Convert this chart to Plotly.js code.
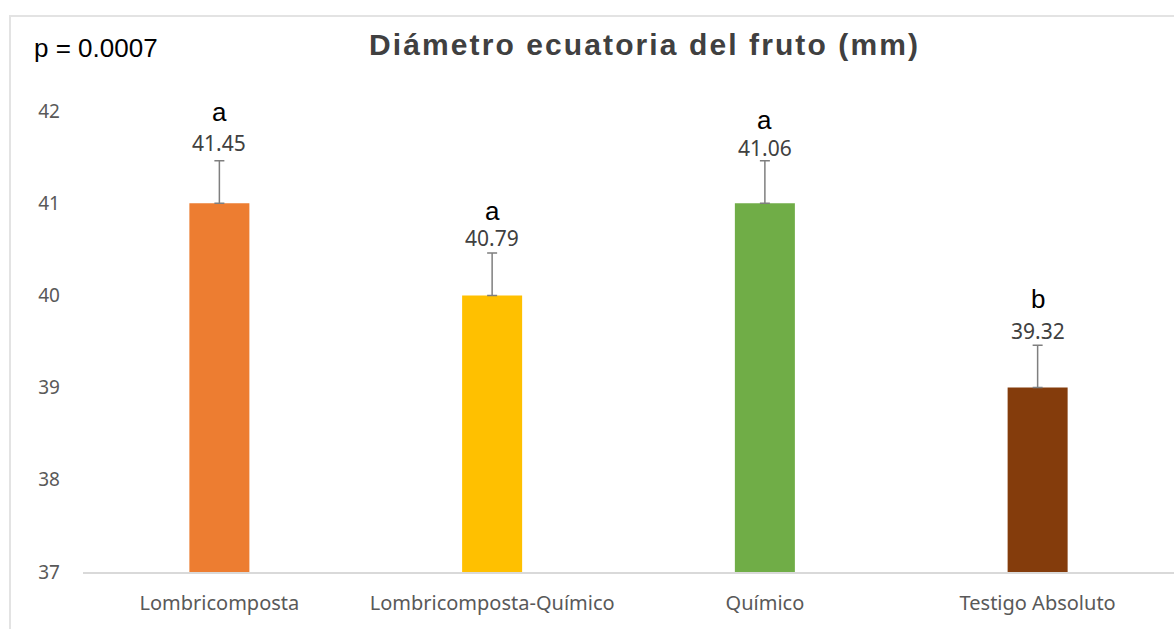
<!DOCTYPE html>
<html>
<head>
<meta charset="utf-8">
<script src="https://cdn.plot.ly/plotly-3.0.1.min.js"></script>
<style>
  html, body { margin: 0; padding: 0; background: #fff; }
  #wrap { position: relative; width: 1174px; height: 629px; }
  #chart { width: 1174px; height: 629px; }
  #frame { position: absolute; left: 9px; top: 15px; right: -2px; bottom: -2px;
           border-top: 2px solid #e3e3e3; border-left: 2px solid #e3e3e3; pointer-events: none; }
  .gtitle { letter-spacing: 2.1px; }
</style>
</head>
<body>
<div id="wrap">
  <div id="chart"></div>
  <div id="frame"></div>
</div>
<script>
// Data
const categories = ["Lombricomposta", "Lombricomposta-Químico", "Químico", "Testigo Absoluto"];
const barValues = [41, 40, 41, 39];
const errorPlus = [0.46, 0.46, 0.46, 0.46];
const meanLabels = ["41.45", "40.79", "41.06", "39.32"];
const groupLetters = ["a", "a", "a", "b"];
const yTicks = [37, 38, 39, 40, 41, 42];
const pValueText = "p = 0.0007";
const chartTitle = "Diámetro ecuatoria del fruto (mm)";

// Styles
const barColors = ["#ED7D31", "#FFC000", "#70AD47", "#843C0C"];
const labelShift = [18, 14.5, 12.5, 14];   // px above error bar top (label centre)
const letterShift = [49, 42, 41, 46];      // px above error bar top (letter centre)

const trace = {
  type: "bar",
  x: categories,
  y: barValues,
  marker: { color: barColors, line: { width: 0 } },
  error_y: { type: "data", symmetric: false, array: errorPlus, arrayminus: errorPlus.map(() => 0),
             color: "#7f7f7f", thickness: 1.5, width: 5 },
  hoverinfo: "skip"
};

const annotations = [];
categories.forEach((c, i) => {
  const top = barValues[i] + errorPlus[i];
  annotations.push({
    x: c, y: top, xref: "x", yref: "y", text: meanLabels[i], showarrow: false,
    yanchor: "middle", yshift: labelShift[i],
    font: { family: "Noto Sans, Open Sans, sans-serif", size: 21, color: "#404040" }
  });
  annotations.push({
    x: c, y: top, xref: "x", yref: "y", text: groupLetters[i], showarrow: false,
    yanchor: "middle", yshift: letterShift[i],
    font: { family: "Liberation Sans, Arial, sans-serif", size: 26, color: "#000000" }
  });
});
annotations.push({
  x: -0.047, y: 1.137, xref: "paper", yref: "paper", text: pValueText, showarrow: false,
  xanchor: "left", yanchor: "middle",
  font: { family: "Liberation Sans, Arial, sans-serif", size: 26, color: "#000000" }
});

const layout = {
  width: 1174, height: 629,
  margin: { l: 83, r: 0, t: 111, b: 57, pad: 0 },
  paper_bgcolor: "#ffffff", plot_bgcolor: "#ffffff",
  showlegend: false,
  bargap: 0.78,
  title: {
    text: "<b>" + chartTitle + "</b>",
    xref: "container", yref: "container", x: 0.549, y: 0.929, xanchor: "center", yanchor: "middle",
    font: { family: "Liberation Sans, Arial, sans-serif", size: 30, color: "#404040" }
  },
  xaxis: {
    type: "category",
    showline: true, linecolor: "#d9d9d9", linewidth: 1.5,
    showgrid: false, zeroline: false, ticks: "",
    ticklabelstandoff: 12,
    tickfont: { family: "Noto Sans, Open Sans, sans-serif", size: 20, color: "#595959" }
  },
  yaxis: {
    range: [37, 42], tickvals: yTicks, ticktext: yTicks.map(String),
    showgrid: false, zeroline: false, showline: false, ticks: "",
    ticklabelstandoff: 22,
    tickfont: { family: "Noto Sans, Open Sans, sans-serif", size: 19, color: "#595959" }
  },
  annotations: annotations
};

Plotly.newPlot("chart", [trace], layout, { displayModeBar: false, staticPlot: true });
</script>
</body>
</html>
